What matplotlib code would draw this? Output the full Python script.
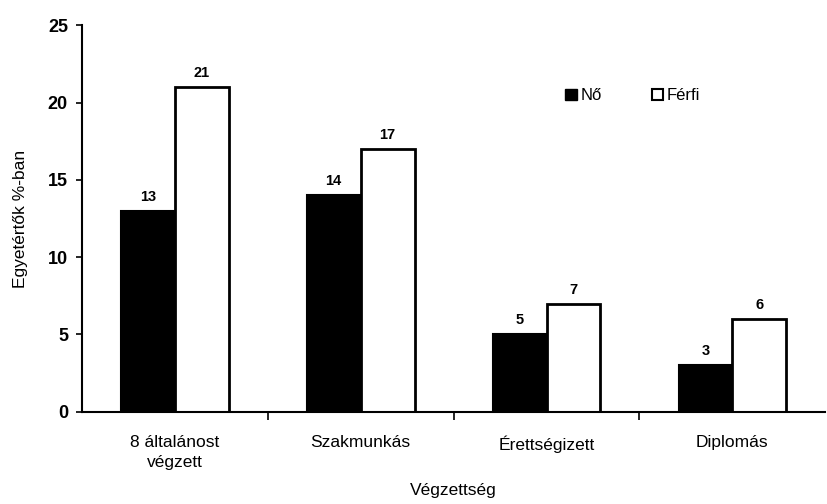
import numpy as np
import matplotlib.pyplot as plt
from matplotlib.patches import Patch

# Data
categories = ["8 általánost\nvégzett", "Szakmunkás", "Érettségizett", "Diplomás"]
no_values = [13, 14, 5, 3]      # Nő
ferfi_values = [21, 17, 7, 6]   # Férfi
y_ticks = [0, 5, 10, 15, 20, 25]

plt.rcParams['font.family'] = ['Liberation Sans', 'DejaVu Sans']

fig = plt.figure(figsize=(8.27, 5.04), dpi=100)
ax = fig.add_axes([0.099, 0.183, 0.899, 0.767])

x = np.arange(len(categories))
w = 0.29

bars_no = ax.bar(x - w / 2, no_values, w, color='black', edgecolor='black', linewidth=1.5, label='Nő')
bars_ff = ax.bar(x + w / 2, ferfi_values, w, color='white', edgecolor='black', linewidth=2, label='Férfi')

# value labels above the bars
for bars in (bars_no, bars_ff):
    for b in bars:
        ax.text(b.get_x() + b.get_width() / 2, b.get_height() + 0.45, f"{int(b.get_height())}",
                ha='center', va='bottom', fontsize=10.5, fontweight='bold')

ax.set_xlim(-0.5, len(categories) - 0.5)
ax.set_ylim(0, 25)
ax.set_yticks(y_ticks)
ax.set_yticklabels([str(t) for t in y_ticks], fontsize=13, fontweight='bold')

# category labels centred, ticks between groups
ax.set_xticks(x)
ax.set_xticklabels(categories, fontsize=12.5, linespacing=1.35)
ax.tick_params(axis='x', length=0, pad=17)
ax.set_xticks(np.arange(0.5, len(categories) - 0.5, 1), minor=True)
ax.tick_params(axis='x', which='minor', length=6, width=1.2, direction='out')
ax.tick_params(axis='y', length=4, width=1.2, direction='out', pad=6)

for s in ('top', 'right'):
    ax.spines[s].set_visible(False)
ax.spines['left'].set_linewidth(1.5)
ax.spines['bottom'].set_linewidth(1.5)

ax.set_ylabel("Egyetértők %-ban", fontsize=12.5, labelpad=14)
ax.set_xlabel("Végzettség", fontsize=12.5, labelpad=10)

handles = [Patch(facecolor='black', edgecolor='black', label='Nő'),
           Patch(facecolor='white', edgecolor='black', linewidth=1.5, label='Férfi')]
fig.legend(handles=handles, loc='center', bbox_to_anchor=(0.765, 0.81), ncol=2,
           frameon=False, fontsize=12, handlelength=0.7, handleheight=0.7,
           handletextpad=0.2, columnspacing=3.0)

fig.savefig("out.png", dpi=100)
